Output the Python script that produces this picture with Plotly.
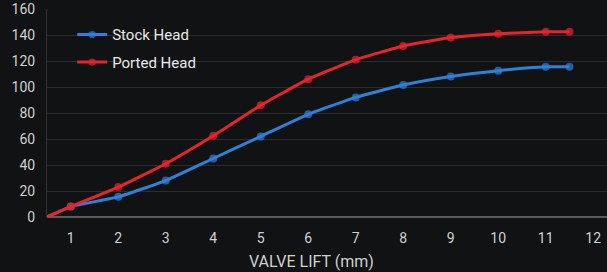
import plotly.graph_objects as go

valve_lift = [0.5, 1, 2, 3, 4, 5, 6, 7, 8, 9, 10, 11, 11.5]
stock_head = [0, 8, 15.5, 28, 45, 62, 79, 92, 101.5, 108, 112.5, 115.5, 115.5]
ported_head = [0, 8, 23, 41, 62.5, 86, 106, 121, 131.5, 138, 141, 142.5, 142.5]
x_ticks = list(range(1, 13))
y_ticks = list(range(0, 161, 20))

marker_sizes = [0] + [8] * (len(valve_lift) - 1)

fig = go.Figure()
fig.add_trace(go.Scatter(
    x=valve_lift, y=stock_head, name="Stock Head", mode="lines+markers", legendgroup="a",
    line=dict(color="#2f80d8", width=3, shape="spline", smoothing=0.4),
    marker=dict(size=marker_sizes, color="#2f80d8", line=dict(width=0)),
))
fig.add_trace(go.Scatter(
    x=valve_lift, y=ported_head, name="Ported Head", mode="lines+markers", legendgroup="b",
    line=dict(color="#e5252b", width=3, shape="spline", smoothing=0.4),
    marker=dict(size=marker_sizes, color="#e5252b", line=dict(width=0)),
))

fig.update_layout(
    width=607, height=272,
    margin=dict(l=47, r=0, t=9, b=55, autoexpand=False),
    paper_bgcolor="#111214", plot_bgcolor="#111214",
    font=dict(family="Roboto, sans-serif", color="#d0d0d0", size=14),
    legend=dict(x=0.045, y=0.955, xanchor="left", yanchor="top",
                bgcolor="rgba(0,0,0,0)", font=dict(size=15, color="#e8e8e8"),
                tracegroupgap=5),
    showlegend=True,
    annotations=[dict(text="VALVE LIFT (mm)", xref="paper", yref="paper",
                      x=0.473, y=-0.212, xanchor="center", yanchor="middle",
                      showarrow=False, font=dict(size=16, color="#d0d0d0"))],
)
fig.update_xaxes(
    range=[0.5, 12.29], tickvals=x_ticks, showgrid=False, zeroline=False,
    showline=False, ticks="", ticklabelstandoff=11, automargin=False,
)
fig.update_yaxes(
    range=[0, 160], tickvals=y_ticks, showgrid=True, gridcolor="#2b2c2e", gridwidth=1,
    zeroline=True, zerolinecolor="#5a5b5d", zerolinewidth=2, automargin=False,
    showline=True, linecolor="#333436", linewidth=1, ticks="", ticklabelstandoff=8,
)

fig.write_html(
    "out.html",
    config={"displayModeBar": False},
    post_script="document.body.style.margin='0';document.body.style.background='#111214';",
)
